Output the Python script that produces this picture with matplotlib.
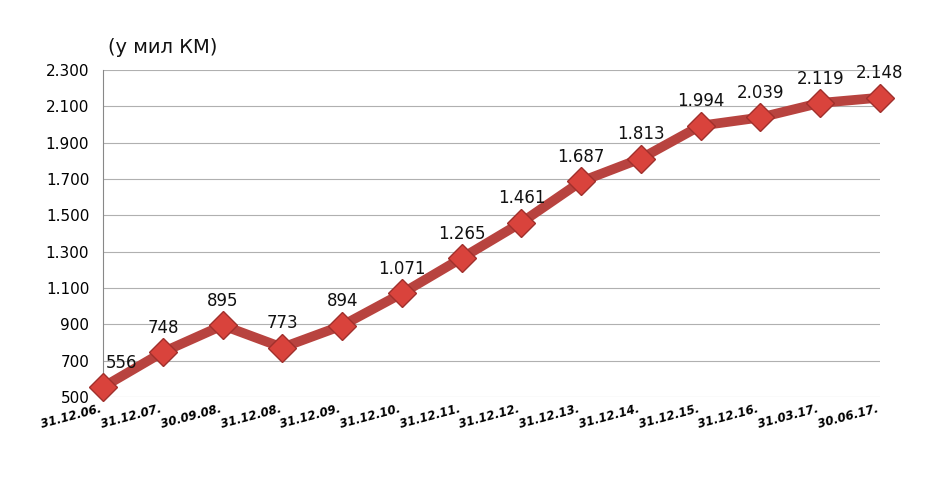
import matplotlib.pyplot as plt

dates = ["31.12.06.", "31.12.07.", "30.09.08.", "31.12.08.", "31.12.09.", "31.12.10.",
         "31.12.11.", "31.12.12.", "31.12.13.", "31.12.14.", "31.12.15.", "31.12.16.",
         "31.03.17.", "30.06.17."]
values = [556, 748, 895, 773, 894, 1071, 1265, 1461, 1687, 1813, 1994, 2039, 2119, 2148]
labels = ["556", "748", "895", "773", "894", "1.071", "1.265", "1.461", "1.687",
          "1.813", "1.994", "2.039", "2.119", "2.148"]
yticks = list(range(500, 2301, 200))

fig = plt.figure(figsize=(9.38, 5.04), dpi=100)
ax = fig.add_axes([0.11, 0.212, 0.828, 0.649])
x = range(len(values))
ax.plot(x, values, color="#b8433f", linewidth=7, solid_capstyle="round", zorder=2, clip_on=False)
ax.plot(x, values, linestyle="none", marker="D", markersize=14, clip_on=False,
        markerfacecolor="#d9433c", markeredgecolor="#a0302c", markeredgewidth=1, zorder=3)
for i, (v, t) in enumerate(zip(values, labels)):
    dx = 0.3 if i == 0 else 0
    ax.text(i + dx, v + 85, t, ha="center", va="bottom", fontsize=12, color="#111")

ax.set_xlim(0, len(values) - 1)
ax.set_ylim(500, 2300)
ax.set_yticks(yticks)
ax.set_yticklabels([f"{v:,}".replace(",", ".") for v in yticks], fontsize=11)
ax.set_xticks(list(x))
ax.set_xticklabels(dates, rotation=15, ha="right", fontsize=8.5,
                   fontweight="bold", fontstyle="italic")
ax.grid(axis="y", color="#b0b0b0", linewidth=0.8)
ax.set_axisbelow(True)
for s in ["top", "right", "bottom"]:
    ax.spines[s].set_visible(False)
ax.spines["left"].set_color("#888")
ax.tick_params(axis="both", length=0)
ax.tick_params(axis="y", pad=10)
fig.text(0.115, 0.895, "(у мил КМ)", fontsize=14, color="#111")
fig.savefig("out.png", dpi=100)
